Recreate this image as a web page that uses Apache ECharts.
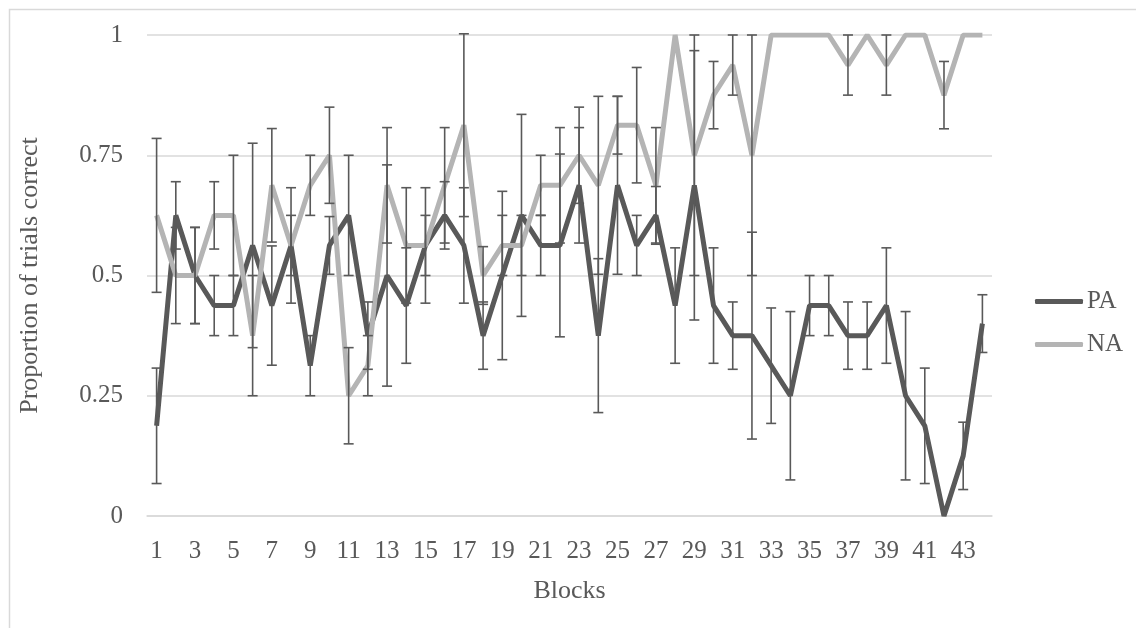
<!DOCTYPE html>
<html>
<head>
<meta charset="utf-8">
<script src="https://cdn.jsdelivr.net/npm/echarts@6/dist/echarts.min.js"></script>
<style>
  html, body { margin: 0; padding: 0; background: #ffffff; }
  #chart { width: 1136px; height: 628px; }
</style>
</head>
<body>
<div id="chart"></div>
<script>
// Block numbers along the x axis
const blocks = Array.from({ length: 44 }, (_, i) => String(i + 1));

// Mean proportion of trials correct per block
const paValues = [0.1875, 0.625, 0.5, 0.4375, 0.4375, 0.5625, 0.4375, 0.5625, 0.3125, 0.5625,
  0.625, 0.375, 0.5, 0.4375, 0.5625, 0.625, 0.5625, 0.375, 0.5, 0.625,
  0.5625, 0.5625, 0.6875, 0.375, 0.6875, 0.5625, 0.625, 0.4375, 0.6875, 0.4375,
  0.375, 0.375, 0.3125, 0.25, 0.4375, 0.4375, 0.375, 0.375, 0.4375, 0.25,
  0.1875, 0, 0.125, 0.4];
const naValues = [0.625, 0.5, 0.5, 0.625, 0.625, 0.375, 0.6875, 0.5625, 0.6875, 0.75,
  0.25, 0.3125, 0.6875, 0.5625, 0.5625, 0.6875, 0.8125, 0.5, 0.5625, 0.5625,
  0.6875, 0.6875, 0.75, 0.6875, 0.8125, 0.8125, 0.6875, 1, 0.75, 0.875,
  0.9375, 0.75, 1, 1, 1, 1, 0.9375, 1, 0.9375, 1,
  1, 0.875, 1, 1];

// Half-length of each error bar (+/-)
const paErrors = [0.12, 0.07, 0.1, 0.0625, 0.0625, 0.2125, 0.124, 0.0625, 0.0625, 0.06,
  0.125, 0.07, 0.23, 0.12, 0.0625, 0.07, 0.12, 0.07, 0.175, 0.21,
  0.0625, 0.19, 0.12, 0.16, 0.185, 0.0625, 0.06, 0.12, 0.28, 0.12,
  0.07, 0.215, 0.12, 0.175, 0.0625, 0.0625, 0.07, 0.07, 0.12, 0.175,
  0.12, 0, 0.07, 0.06];
const naErrors = [0.16, 0.1, 0.1, 0.07, 0.125, 0.125, 0.118, 0.12, 0.0625, 0.1,
  0.1, 0.0625, 0.12, 0.12, 0.12, 0.12, 0.19, 0.06, 0.0625, 0.0625,
  0.0625, 0.12, 0.1, 0.185, 0.06, 0.12, 0.12, 0, 0.25, 0.07,
  0.0625, 0.25, 0, 0, 0, 0, 0.0625, 0, 0.0625, 0,
  0, 0.07, 0, 0];

const TEXT = '#595959';
const GRID = '#d9d9d9';
const FONT = 'Liberation Serif';

function errorData(values, errors) {
  return values.map((v, i) => [i, v - errors[i], v + errors[i]]);
}

// Vertical whisker with flat caps at both ends
function renderErrorBar(params, api) {
  const idx = api.value(0);
  const lo = api.value(1);
  const hi = api.value(2);
  if (hi - lo <= 0) return null;
  const top = api.coord([idx, hi]);
  const bottom = api.coord([idx, lo]);
  const half = 5;
  const style = { stroke: TEXT, lineWidth: 1.6 };
  return {
    type: 'group',
    children: [
      { type: 'line', shape: { x1: top[0], y1: top[1], x2: bottom[0], y2: bottom[1] }, style },
      { type: 'line', shape: { x1: top[0] - half, y1: top[1], x2: top[0] + half, y2: top[1] }, style },
      { type: 'line', shape: { x1: bottom[0] - half, y1: bottom[1], x2: bottom[0] + half, y2: bottom[1] }, style }
    ]
  };
}

const chart = echarts.init(document.getElementById('chart'), null, { renderer: 'canvas' });

chart.setOption({
  backgroundColor: '#ffffff',
  animation: false,
  textStyle: { fontFamily: FONT, color: TEXT },
  graphic: [{
    type: 'rect',
    left: 7, top: 7,
    shape: { width: 1140, height: 640 },
    style: { fill: 'none', stroke: GRID, lineWidth: 1.5 },
    silent: true, z: -10
  }],
  grid: { left: 147, right: 144, top: 35, bottom: 112, containLabel: false },
  legend: {
    orient: 'vertical',
    left: 1030,
    top: 284,
    itemWidth: 48,
    itemHeight: 5,
    itemGap: 18,
    icon: 'roundRect',
    textStyle: { fontFamily: FONT, fontSize: 25, color: TEXT, padding: [0, 0, 0, -1] },
    data: ['PA', 'NA']
  },
  xAxis: {
    type: 'category',
    data: blocks,
    boundaryGap: true,
    name: 'Blocks',
    nameLocation: 'middle',
    nameGap: 62,
    nameTextStyle: { fontFamily: FONT, fontSize: 26, color: TEXT },
    axisLine: { lineStyle: { color: GRID, width: 1.5 } },
    axisTick: { show: false },
    axisLabel: { interval: 1, margin: 23, fontFamily: FONT, fontSize: 25, color: TEXT }
  },
  yAxis: {
    type: 'value',
    min: 0, max: 1, interval: 0.25,
    name: 'Proportion of trials correct',
    nameLocation: 'middle',
    nameGap: 104,
    nameTextStyle: { fontFamily: FONT, fontSize: 26, color: TEXT },
    axisLine: { show: false },
    axisTick: { show: false },
    splitLine: { lineStyle: { color: GRID, width: 1.5 } },
    axisLabel: { margin: 24, fontFamily: FONT, fontSize: 25, color: TEXT }
  },
  series: [
    {
      name: 'PA', type: 'line', data: paValues,
      showSymbol: false, symbol: 'none',
      lineStyle: { color: '#595959', width: 5 },
      itemStyle: { color: '#595959' },
      z: 2
    },
    {
      name: 'NA', type: 'line', data: naValues,
      showSymbol: false, symbol: 'none',
      lineStyle: { color: '#b4b4b4', width: 5 },
      itemStyle: { color: '#b4b4b4' },
      z: 3
    },
    {
      name: 'PA error', type: 'custom', data: errorData(paValues, paErrors),
      renderItem: renderErrorBar, z: 4, silent: true,
      encode: { x: 0, y: [1, 2] }
    },
    {
      name: 'NA error', type: 'custom', data: errorData(naValues, naErrors),
      renderItem: renderErrorBar, z: 4, silent: true,
      encode: { x: 0, y: [1, 2] }
    }
  ]
});
</script>
</body>
</html>
